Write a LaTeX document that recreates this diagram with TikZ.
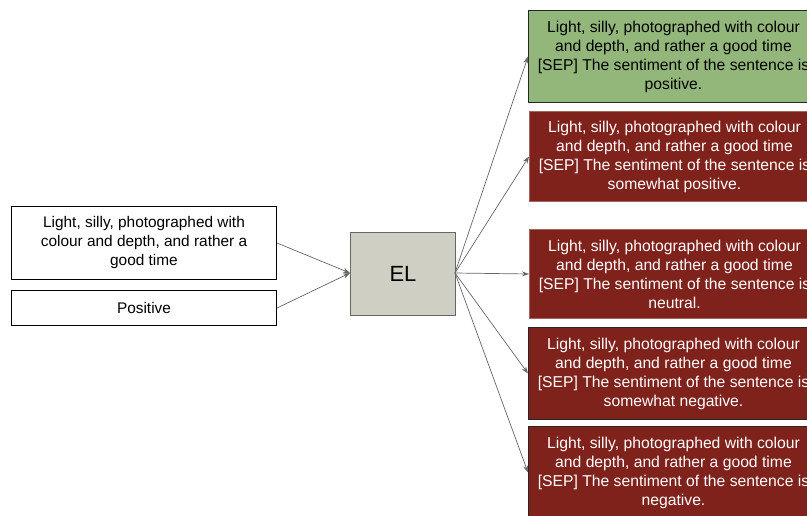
\documentclass[tikz,border=0pt]{standalone}
\usepackage{fontspec}
\setmainfont{Liberation Sans}
\usetikzlibrary{arrows.meta}
\definecolor{goodgreen}{HTML}{93B77A}
\definecolor{badred}{HTML}{7F221C}
\definecolor{elgray}{HTML}{CFCFC4}
\definecolor{arrowgray}{HTML}{666666}
\newcommand{\sepline}{\relax{}[SEP] The sentiment of the sentence is}
\tikzset{
  outbox/.style={draw, line width=1pt, minimum width=290pt, align=center, inner sep=0pt, font=\fontsize{15.7}{19}\selectfont, anchor=north west},
  greenbox/.style={outbox, fill=goodgreen, draw=black!85, text=black},
  redbox/.style={outbox, fill=badred, text=white},
  inbox/.style={draw, line width=1pt, fill=white, minimum width=265pt, align=center, inner sep=0pt, font=\fontsize{15.4}{19}\selectfont, anchor=north west},
  conn/.style={draw=arrowgray, line width=0.7pt, -{Stealth[length=7pt,width=5pt]}}
}
\begin{document}
\begin{tikzpicture}[x=1pt,y=-1pt]
\useasboundingbox (0,0) rectangle (807,516);
\clip (0,0) rectangle (807,516);
\node[greenbox, minimum height=92pt] (g1) at (528,10) {Light, silly, photographed with colour\\and depth, and rather a good time\\\sepline\\positive.};
\node[redbox, draw=badred!70!white, minimum height=90pt] (r2) at (529,111) {Light, silly, photographed with colour\\and depth, and rather a good time\\\sepline\\somewhat positive.};
\node[redbox, draw=badred!70!white, minimum height=89pt] (r3) at (529,229) {Light, silly, photographed with colour\\and depth, and rather a good time\\\sepline\\neutral.};
\node[redbox, draw=black!85, minimum height=92pt] (r4) at (528,327) {Light, silly, photographed with colour\\and depth, and rather a good time\\\sepline\\somewhat negative.};
\node[redbox, draw=black!85, minimum height=92pt] (r5) at (528,426) {Light, silly, photographed with colour\\and depth, and rather a good time\\\sepline\\negative.};
\node[inbox, minimum height=73pt] (in1) at (11,206) {Light, silly, photographed with\\colour and depth, and rather a\\good time};
\node[inbox, minimum height=35pt] (in2) at (11,290) {Positive};
\node[draw=black!60, line width=1pt, fill=elgray, minimum width=105pt, minimum height=83pt, anchor=north west, font=\fontsize{22}{26}\selectfont] (el) at (350,232) {EL};
\coordinate (elout) at (455,273);
\coordinate (elin) at (350,273);
\draw[conn] (in1.east) -- (elin);
\draw[conn] (in2.east) -- (elin);
\draw[conn] (elout) -- (g1.west);
\draw[conn] (elout) -- (r2.west);
\draw[conn] (elout) -- (r3.west);
\draw[conn] (elout) -- (r4.west);
\draw[conn] (elout) -- (r5.west);
\end{tikzpicture}
\end{document}
